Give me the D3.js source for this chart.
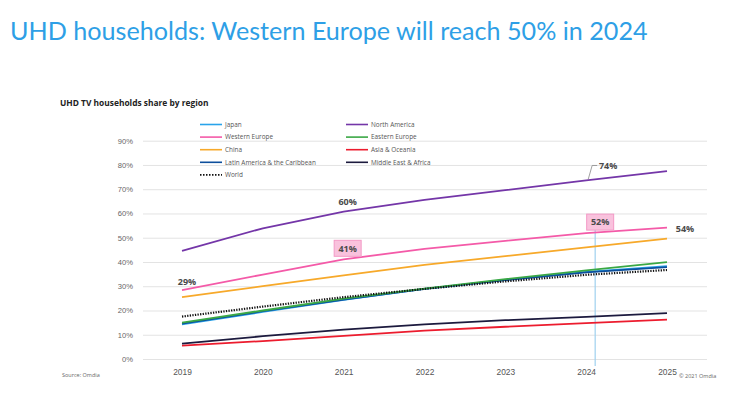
<!DOCTYPE html>
<html lang="en">
<head>
<meta charset="UTF-8">
<title>UHD households</title>
<script src="https://d3js.org/d3.v7.min.js"></script>
<style>
html, body {
  margin: 0;
  padding: 0;
  background-color: white;
}

svg {
  display: block;
  font-family: 'Open Sans', sans-serif;
}

.title {
  font-family: Lato, sans-serif;
  fill: #2e9fe6;
}

.subtitle {
  font-size: 8.4px;
  font-weight: bold;
  fill: #222;
}

.legend text {
  font-size: 6.4px;
  fill: #555;
}

.y-axis text {
  font-size: 7.6px;
  fill: #666;
}

.x-axis text {
  font-size: 8.4px;
  fill: #555;
}

.y-axis path, .x-axis path, .x-axis line {
  stroke: none;
}

.y-axis line {
  stroke: #e3e3e3;
  stroke-width: 1px;
}

.line {
  fill: none;
}

.note {
  font-size: 9px;
  font-weight: bold;
  fill: #4a4a4a;
}

.small {
  font-size: 5.5px;
  fill: #666;
}
</style>
</head>
<body>

<div id="chart"></div>

<script>

// --------------------------------------
// Data
// --------------------------------------

const years = ["2019", "2020", "2021", "2022", "2023", "2024", "2025"];
const yTicks = [0, 10, 20, 30, 40, 50, 60, 70, 80, 90];

const japan          = [14.3, 19.4, 24.4, 28.9, 32.6, 35.9, 38.3];
const northAmerica   = [44.6, 53.9, 60.8, 65.6, 69.6, 73.6, 77.5];
const westernEurope  = [28.4, 34.8, 41.1, 45.4, 48.7, 51.9, 54.2];
const easternEurope  = [15.0, 20.0, 24.9, 29.0, 32.9, 36.5, 39.9];
const china          = [25.5, 30.0, 34.5, 38.8, 42.4, 46.0, 49.6];
const asiaOceania    = [5.5, 7.4, 9.5, 11.7, 13.3, 14.8, 16.2];
const latinAmerica   = [14.6, 19.7, 24.5, 28.9, 32.5, 35.7, 37.9];
const middleEast     = [6.3, 9.4, 12.1, 14.3, 16.0, 17.4, 18.9];
const world          = [17.5, 21.6, 25.5, 28.9, 32.0, 34.7, 36.7];

const series = [
  {name: "Japan", values: japan, color: "#29a3ea", col: 0, row: 0},
  {name: "North America", values: northAmerica, color: "#7436a8", col: 1, row: 0},
  {name: "Western Europe", values: westernEurope, color: "#f45aa8", col: 0, row: 1},
  {name: "Eastern Europe", values: easternEurope, color: "#3aa845", col: 1, row: 1},
  {name: "China", values: china, color: "#f7a92a", col: 0, row: 2},
  {name: "Asia & Oceania", values: asiaOceania, color: "#ec1c2e", col: 1, row: 2},
  {name: "Latin America & the Caribbean", values: latinAmerica, color: "#0d4f9c", col: 0, row: 3},
  {name: "Middle East & Africa", values: middleEast, color: "#1c1a3e", col: 1, row: 3},
  {name: "World", values: world, color: "#111", col: 0, row: 4, dotted: true}
];

// drawing order, bottom to top
const drawOrder = ["Asia & Oceania", "Middle East & Africa", "Japan", "Latin America & the Caribbean",
  "Eastern Europe", "World", "China", "Western Europe", "North America"];

// --------------------------------------
// Size and SVG
// --------------------------------------

let totalWidth = 735;
let totalHeight = 396;

let svg = d3.select("#chart")
  .append("svg")
  .attr("width", totalWidth)
  .attr("height", totalHeight);

// Title, fitted to the width of the original
let title = svg.append("text")
  .attr("class", "title")
  .attr("x", 10)
  .attr("y", 40)
  .style("font-size", "24px")
  .text("UHD households: Western Europe will reach 50% in 2024");
let tw = title.node().getComputedTextLength();
title.style("font-size", (24 * 638 / tw) + "px");

svg.append("text")
  .attr("class", "subtitle")
  .attr("x", 60)
  .attr("y", 106)
  .text("UHD TV households share by region");

// --------------------------------------
// Scales
// --------------------------------------

let x = d3.scalePoint()
  .domain(years)
  .range([182, 667]);

let y = d3.scaleLinear()
  .domain([0, 90])
  .range([359, 140.7]);

// --------------------------------------
// Axes
// --------------------------------------

svg.append("g")
  .attr("class", "y-axis")
  .attr("transform", "translate(143,0)")
  .call(d3.axisLeft(y)
    .tickValues(yTicks)
    .tickSize(-564)
    .tickPadding(10)
    .tickFormat(d => d + "%"));

svg.append("g")
  .attr("class", "x-axis")
  .attr("transform", "translate(0,364)")
  .call(d3.axisBottom(x).tickSize(0).tickPadding(5));

// vertical marker in 2024
svg.append("line")
  .attr("x1", x("2024") + 9)
  .attr("x2", x("2024") + 9)
  .attr("y1", 228)
  .attr("y2", 366)
  .attr("stroke", "#9fd0ef")
  .attr("stroke-width", 1.2);

// --------------------------------------
// Lines
// --------------------------------------

let line = d3.line()
  .x((d, i) => x(years[i]))
  .y(d => y(d));

drawOrder.forEach(name => {
  let s = series.find(d => d.name === name);
  svg.append("path")
    .datum(s.values)
    .attr("class", "line")
    .attr("stroke", s.color)
    .attr("stroke-width", s.dotted ? 2.2 : 1.8)
    .attr("stroke-dasharray", s.dotted ? "1.3,1.3" : null)
    .attr("d", line);
});

// --------------------------------------
// Legend
// --------------------------------------

let legend = svg.append("g")
  .attr("class", "legend");

series.forEach(s => {
  let lx = s.col === 0 ? 200 : 346;
  let ly = 124.5 + s.row * 12.6;
  legend.append("line")
    .attr("x1", lx)
    .attr("x2", lx + 22)
    .attr("y1", ly)
    .attr("y2", ly)
    .attr("stroke", s.color)
    .attr("stroke-width", 1.6)
    .attr("stroke-dasharray", s.dotted ? "1.5,1.5" : null);
  legend.append("text")
    .attr("x", lx + 25)
    .attr("y", ly + 2.2)
    .text(s.name);
});

// --------------------------------------
// Annotations
// --------------------------------------

function note(txt, cx, cy, boxed) {
  if (boxed) {
    svg.append("rect")
      .attr("x", cx - 13.5)
      .attr("y", cy - 8)
      .attr("width", 27)
      .attr("height", 16)
      .attr("fill", "#f9c2dd")
      .attr("stroke", "#f39ac6")
      .attr("stroke-width", 1);
  }
  svg.append("text")
    .attr("class", "note")
    .attr("x", cx)
    .attr("y", cy + 3.2)
    .attr("text-anchor", "middle")
    .text(txt);
}

note("29%", x("2019") + 5, y(westernEurope[0]) - 8, false);
note("60%", x("2021") + 4, y(northAmerica[2]) - 10, false);
note("41%", x("2021") + 4, y(westernEurope[2]) - 11, true);
note("52%", x("2024") + 14, y(westernEurope[5]) - 11, true);
note("54%", x("2025") + 18, y(westernEurope[6]) + 1, false);
note("74%", x("2024") + 22, y(northAmerica[5]) - 15, false);

// leader line for 74%
svg.append("path")
  .attr("d", d3.line()([[x("2024") + 11, y(northAmerica[5]) - 15], [x("2024") + 6, y(northAmerica[5]) - 15], [x("2024") + 2, y(northAmerica[5]) - 1]]))
  .attr("fill", "none")
  .attr("stroke", "#888")
  .attr("stroke-width", 0.8);

// footer
svg.append("text")
  .attr("class", "small")
  .attr("x", 62)
  .attr("y", 377)
  .text("Source: Omdia");

svg.append("text")
  .attr("class", "small")
  .attr("x", 679)
  .attr("y", 378)
  .text("© 2021 Omdia");

</script>
</body>
</html>
